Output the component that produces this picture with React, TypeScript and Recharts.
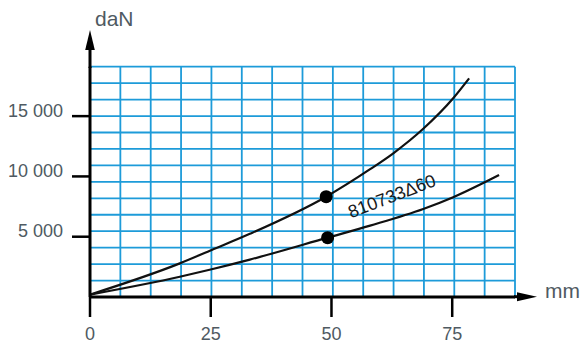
import React from "react";
import { LineChart, Line, XAxis, YAxis, ReferenceLine, ReferenceDot } from "recharts";

// upper curve (travel in mm, force in daN)
const upperTravel = [0, 18.6, 25.2, 33.1, 48.9, 58, 62.8, 69, 75.2, 78.5];
const upperForce = [200, 2790, 3900, 5240, 8320, 10600, 11920, 13950, 16480, 18130];
// lower curve
const lowerTravel = [0, 18.6, 25.2, 33.1, 49.2, 58, 69, 75.2, 84.7];
const lowerForce = [200, 1680, 2300, 3100, 4920, 5920, 7300, 8280, 10120];

const markTravel = [48.9, 49.2];
const markForce = [8320, 4920];

const xTicks = [0, 25, 50, 75];
const yTicks = [5000, 10000, 15000];
const xMax = 88;
const yMax = 19100;
const gridCells = 14;

const curveLabel = "810733\u039460";
const labelAt = { x: 62.6, y: 8250 };

const FONT = "'Liberation Sans', Arial, sans-serif";
const TICK_COLOR = "#4f5a62";
const GRID = "#1d9bd9";

const upperData = upperTravel.map((x, i) => ({ x, y: upperForce[i] }));
const lowerData = lowerTravel.map((x, i) => ({ x, y: lowerForce[i] }));
const gridX = Array.from({ length: gridCells + 1 }, (_, i) => (i * xMax) / gridCells);
const gridY = Array.from({ length: gridCells + 1 }, (_, i) => (i * yMax) / gridCells);

const fmt = (v: number) => String(v).replace(/\B(?=(\d{3})+(?!\d))/g, " ");

const XTick = ({ x, y, payload }: any) => (
  <text x={x} y={y} dy="0.71em" textAnchor="middle" fill={TICK_COLOR} fontSize={18} fontFamily={FONT}>
    {payload.value}
  </text>
);

const YTick = ({ x, y, payload }: any) => (
  <text x={x} y={y} dy={-4} textAnchor="end" dominantBaseline="middle" fill={TICK_COLOR} fontSize={18} fontFamily={FONT}>
    {fmt(payload.value)}
  </text>
);

const RotatedLabel = ({ cx, cy }: any) => (
  <text
    x={cx}
    y={cy}
    textAnchor="middle"
    dominantBaseline="middle"
    transform={`rotate(-21 ${cx} ${cy})`}
    fill="#1a1a1a"
    fontSize={18}
    fontFamily={FONT}
  >
    {curveLabel}
  </text>
);

export default function App() {
  return (
    <div style={{ position: "absolute", left: 0, top: 0, width: 582, height: 345, background: "#fff" }}>
      <LineChart width={582} height={345} margin={{ top: 66.7, right: 67, bottom: 0, left: 0 }}>
        <XAxis
          type="number"
          dataKey="x"
          domain={[0, xMax]}
          ticks={xTicks}
          height={48}
          axisLine={{ stroke: "#000", strokeWidth: 3 }}
          tickLine={{ stroke: "#000", strokeWidth: 2.5 }}
          tickSize={20}
          tickMargin={10}
          tick={<XTick />}
          allowDataOverflow
        />
        <YAxis
          type="number"
          domain={[0, yMax]}
          ticks={yTicks}
          width={90}
          axisLine={{ stroke: "#000", strokeWidth: 3 }}
          tickLine={{ stroke: "#000", strokeWidth: 2.5 }}
          tickSize={18}
          tickMargin={9}
          tick={<YTick />}
          allowDataOverflow
        />
        {gridX.slice(1).map((v) => (
          <ReferenceLine key={"gx" + v} x={v} stroke={GRID} strokeWidth={1.8} />
        ))}
        {gridY.slice(1).map((v) => (
          <ReferenceLine key={"gy" + v} y={v} stroke={GRID} strokeWidth={1.8} />
        ))}
        <Line data={upperData} dataKey="y" type="monotone" stroke="#111" strokeWidth={2.2} dot={false} isAnimationActive={false} />
        <Line data={lowerData} dataKey="y" type="monotone" stroke="#111" strokeWidth={2.2} dot={false} isAnimationActive={false} />
        {markTravel.map((x, i) => (
          <ReferenceDot key={i} x={x} y={markForce[i]} r={6.5} fill="#000" stroke="none" />
        ))}
        <ReferenceDot x={labelAt.x} y={labelAt.y} r={0} shape={<RotatedLabel />} />
      </LineChart>
      <svg width={582} height={345} style={{ position: "absolute", left: 0, top: 0, pointerEvents: "none" }}>
        <line x1={90} y1={68} x2={90} y2={46} stroke="#000" strokeWidth={3} />
        <polygon points="90,30 85.2,50 94.8,50" fill="#000" />
        <line x1={514} y1={296.7} x2={522} y2={296.7} stroke="#000" strokeWidth={3} />
        <polygon points="537,296.7 517,292.2 517,301.2" fill="#000" />
        <text x={95} y={26} fontSize={21} fill={TICK_COLOR} fontFamily={FONT}>daN</text>
        <text x={545} y={298} fontSize={21} fill={TICK_COLOR} fontFamily={FONT}>mm</text>
      </svg>
    </div>
  );
}
